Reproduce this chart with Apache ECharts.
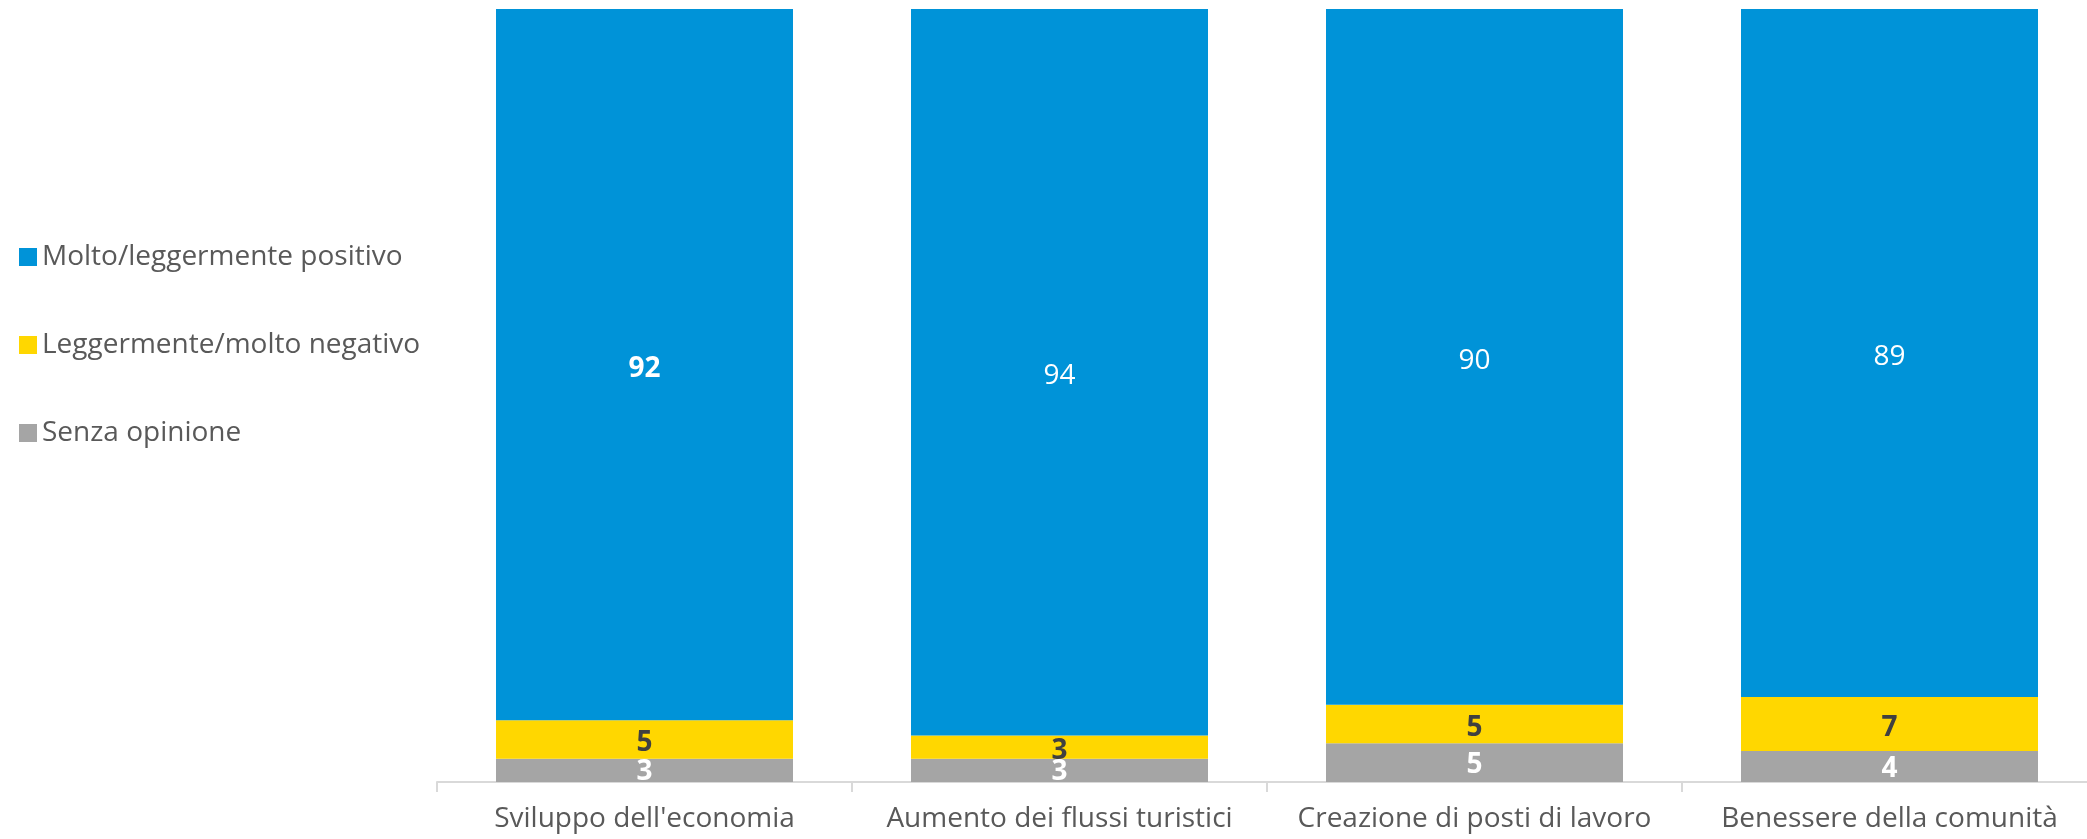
<!DOCTYPE html>
<html>
<head>
<meta charset="utf-8">
<script src="https://cdn.jsdelivr.net/npm/echarts@6/dist/echarts.min.js"></script>
<style>
html,body{margin:0;padding:0;background:#fff;overflow:hidden;width:2087px;height:839px;}
#chart{width:2097px;height:839px;}
</style>
</head>
<body>
<div id="chart"></div>
<script>
const categories = ["Sviluppo dell'economia", "Aumento dei flussi turistici", "Creazione di posti di lavoro", "Benessere della comunità"];
const positivo = [92, 94, 90, 89];
const negativo = [5, 3, 5, 7];
const senzaOpinione = [3, 3, 5, 4];
const seriesNames = ["Molto/leggermente positivo", "Leggermente/molto negativo", "Senza opinione"];
const boldPositivo = [true, false, false, false];

const FONT = "Open Sans";
const chart = echarts.init(document.getElementById('chart'), null, {renderer: 'canvas'});

function lbl(color, weight, dy) {
  return {show: true, position: 'inside', color: color, fontFamily: FONT, fontSize: 28, fontWeight: weight, offset: [0, dy]};
}

chart.setOption({
  animation: false,
  backgroundColor: '#ffffff',
  legend: {
    orient: 'vertical',
    left: 14,
    top: 238,
    itemWidth: 18,
    itemHeight: 18,
    itemGap: 60,
    itemTextGap: 8,
    icon: 'rect',
    data: seriesNames.slice(),
    textStyle: {color: '#595959', fontFamily: FONT, fontSize: 28, lineHeight: 28}
  },
  grid: {left: 437, top: 9, right: 0, height: 773, containLabel: false},
  xAxis: {
    type: 'category',
    data: categories,
    axisLine: {show: true, lineStyle: {color: '#d9d9d9', width: 2}},
    axisTick: {show: true, length: 10, interval: 0, lineStyle: {color: '#d9d9d9', width: 2}},
    axisLabel: {color: '#595959', fontFamily: FONT, fontSize: 28, margin: 23, interval: 0}
  },
  yAxis: {type: 'value', min: 0, max: 100, show: false, splitLine: {show: false}},
  series: [
    {
      name: seriesNames[2], type: 'bar', stack: 's', barWidth: 297,
      itemStyle: {color: '#a5a5a5'},
      label: lbl('#ffffff', 'bold', 2),
      data: senzaOpinione
    },
    {
      name: seriesNames[1], type: 'bar', stack: 's', barWidth: 297,
      itemStyle: {color: '#ffd700'},
      label: lbl('#404040', 'bold', 4),
      data: negativo
    },
    {
      name: seriesNames[0], type: 'bar', stack: 's', barWidth: 297,
      itemStyle: {color: '#0093d8'},
      label: lbl('#ffffff', 'normal', 4),
      data: positivo.map((v, i) => ({value: v, label: {fontWeight: boldPositivo[i] ? 'bold' : 'normal'}}))
    }
  ]
});
</script>
</body>
</html>
